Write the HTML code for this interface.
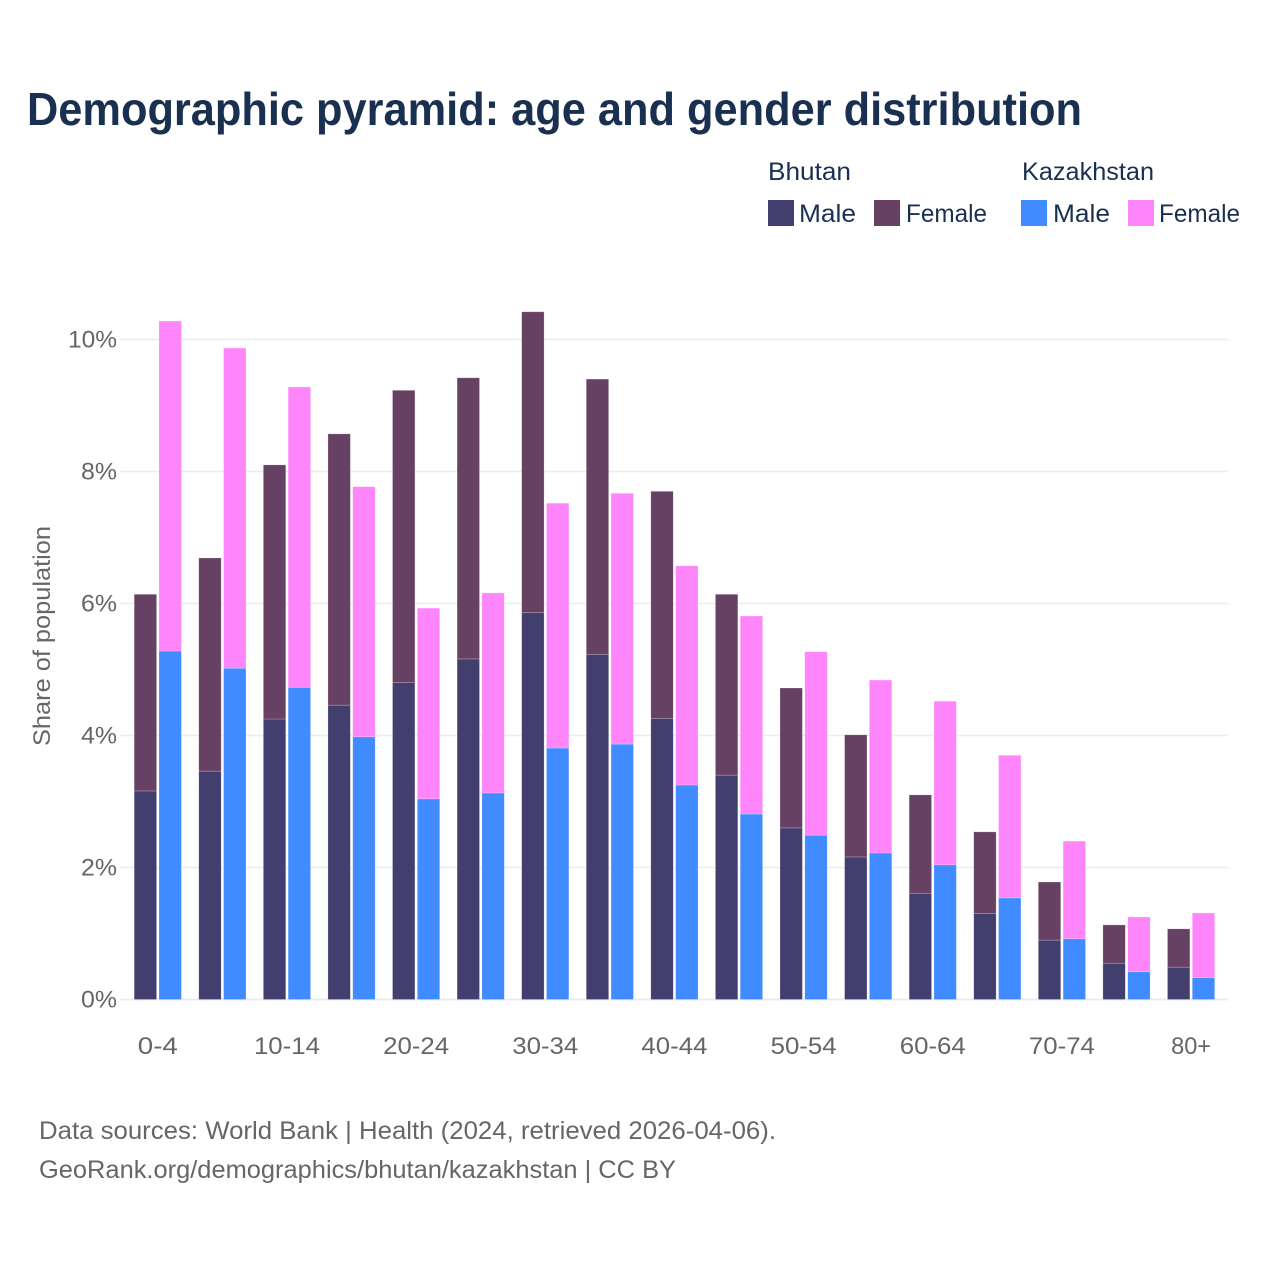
<!DOCTYPE html>
<html lang="en">
<head>
<meta charset="utf-8">
<title>Demographic pyramid</title>
<style>
html,body{margin:0;padding:0;background:#fff;}
svg{display:block;font-family:"Liberation Sans",Arial,sans-serif;}
</style>
</head>
<body>
<svg id="chart" xmlns="http://www.w3.org/2000/svg" width="1280" height="1280" viewBox="0 0 1280 1280">
  <rect width="1280" height="1280" fill="#ffffff"/>
  <text x="27" y="125" font-size="46" font-weight="bold" fill="#1a3050" textLength="1055" lengthAdjust="spacingAndGlyphs">Demographic pyramid: age and gender distribution</text>

  <g font-size="25" fill="#1a3050">
    <text x="768" y="180" textLength="83" lengthAdjust="spacingAndGlyphs">Bhutan</text>
    <text x="1022" y="180" textLength="132" lengthAdjust="spacingAndGlyphs">Kazakhstan</text>
    <rect x="768" y="200" width="26" height="26" fill="#423f6f"/>
    <text x="799" y="222" textLength="57" lengthAdjust="spacingAndGlyphs">Male</text>
    <rect x="874" y="200" width="26" height="26" fill="#674163"/>
    <text x="906" y="222" textLength="81" lengthAdjust="spacingAndGlyphs">Female</text>
    <rect x="1021" y="200" width="26" height="26" fill="#3f8bff"/>
    <text x="1053" y="222" textLength="57" lengthAdjust="spacingAndGlyphs">Male</text>
    <rect x="1128" y="200" width="26" height="26" fill="#ff85fb"/>
    <text x="1159" y="222" textLength="81" lengthAdjust="spacingAndGlyphs">Female</text>
  </g>

  <text transform="translate(50,636) rotate(-90)" text-anchor="middle" font-size="24" fill="#666666" textLength="220" lengthAdjust="spacingAndGlyphs">Share of population</text>

  <g id="grid"></g>
  <g id="yticks"></g>
  <g id="bars"></g>
  <g id="xticks"></g>

  <g font-size="25" fill="#666666">
    <text x="39" y="1139" textLength="737" lengthAdjust="spacingAndGlyphs">Data sources: World Bank | Health (2024, retrieved 2026-04-06).</text>
    <text x="39" y="1178" textLength="637" lengthAdjust="spacingAndGlyphs">GeoRank.org/demographics/bhutan/kazakhstan | CC BY</text>
  </g>
</svg>
<script>
const ageGroups = ["0-4","5-9","10-14","15-19","20-24","25-29","30-34","35-39","40-44","45-49","50-54","55-59","60-64","65-69","70-74","75-79","80+"];
const ageTickLabels = ["0-4","10-14","20-24","30-34","40-44","50-54","60-64","70-74","80+"];
const yTicks = [0,2,4,6,8,10];
const bhutanMale = [3.16,3.46,4.25,4.46,4.80,5.16,5.86,5.23,4.26,3.40,2.60,2.16,1.61,1.30,0.90,0.55,0.49];
const bhutanFemale = [2.98,3.23,3.85,4.11,4.43,4.26,4.56,4.17,3.44,2.74,2.12,1.85,1.49,1.24,0.88,0.58,0.58];
const kazakhstanMale = [5.28,5.02,4.73,3.98,3.04,3.13,3.81,3.87,3.25,2.81,2.49,2.22,2.04,1.54,0.92,0.42,0.33];
const kazakhstanFemale = [5.00,4.85,4.55,3.79,2.89,3.03,3.71,3.80,3.32,3.00,2.78,2.62,2.48,2.16,1.48,0.83,0.98];

const NS = "http://www.w3.org/2000/svg";
const yScale = v => 999.5 - v * 66;
const xScale = i => 157.8 + i * 64.58;
const barWidth = 22.4;

function mk(parent, tag, attrs, text) {
  const el = document.createElementNS(NS, tag);
  for (const k in attrs) el.setAttribute(k, attrs[k]);
  if (text !== undefined) el.textContent = text;
  parent.appendChild(el);
  return el;
}

const grid = document.getElementById("grid");
const yt = document.getElementById("yticks");
yTicks.forEach(t => {
  const line = mk(grid, "line", {x1:120.5, x2:1228, y1:yScale(t), y2:yScale(t), stroke: "#ececf0", "stroke-width": t === 0 ? 2 : 1.4});
  
  
  const lab = mk(yt, "text", {x:117, y:yScale(t)+8, "text-anchor":"end", "font-size":24, fill:"#666666", textLength: t >= 10 ? 49 : 36, lengthAdjust:"spacingAndGlyphs"}, t + "%");
  
  
});

const bars = document.getElementById("bars");
function drawStack(i, left, male, female, maleColor, femaleColor) {
  const yMale = yScale(male);
  const yTotal = yScale(male + female);
  const m = mk(bars, "rect", {x:left, y:yMale, width:barWidth, height:yScale(0)-yMale, fill:maleColor, stroke:"#ffffff", "stroke-opacity":0.35, "stroke-width":0.6});
  
  
  const f = mk(bars, "rect", {x:left, y:yTotal, width:barWidth, height:yMale-yTotal, fill:femaleColor, stroke:"#ffffff", "stroke-opacity":0.35, "stroke-width":0.6});
  
  
}
ageGroups.forEach((g, i) => {
  const c = xScale(i);
  drawStack(i, c - 23.6, bhutanMale[i], bhutanFemale[i], "#423f6f", "#674163");
  drawStack(i, c + 1.2, kazakhstanMale[i], kazakhstanFemale[i], "#3f8bff", "#ff85fb");
});

const xt = document.getElementById("xticks");
ageGroups.forEach((g, i) => {
  if (!ageTickLabels.includes(g)) return;
  const w = g.length === 5 ? 66 : (g.length === 3 ? 40 : 40);
  const lab = mk(xt, "text", {x:xScale(i), y:1054, "text-anchor":"middle", "font-size":24, fill:"#666666", textLength:w, lengthAdjust:"spacingAndGlyphs"}, g);
  
  
});
</script>
</body>
</html>
